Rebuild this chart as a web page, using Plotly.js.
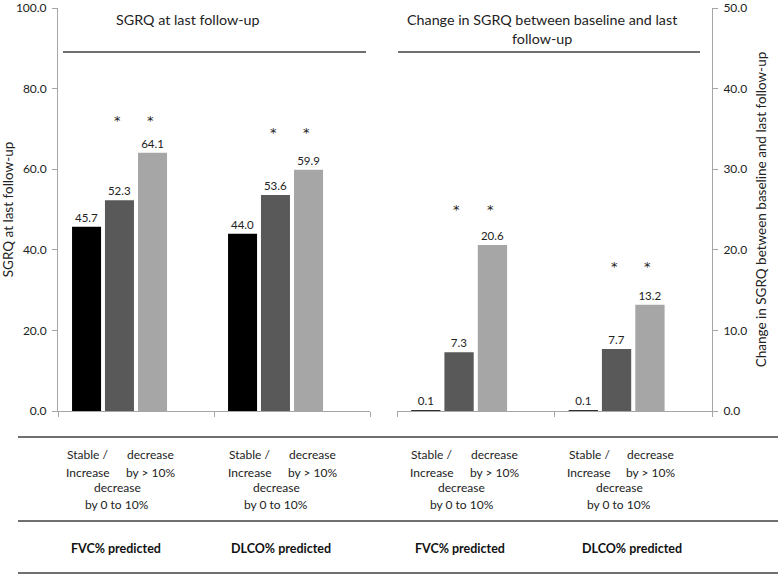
<!DOCTYPE html>
<html><head><meta charset="utf-8">
<script src="https://cdn.plot.ly/plotly-3.0.1.min.js"></script>
<style>html,body{margin:0;padding:0;background:#fff}#chart{width:778px;height:574px}</style>
</head><body><div id="chart"></div>
<script>
// ---- data ----
const groups = ["FVC% predicted", "DLCO% predicted"];
const seriesNames = ["Stable / Increase", "decrease by 0 to 10%", "decrease by > 10%"];
const sgrqStable = [45.7, 44.0];
const sgrqDecSmall = [52.3, 53.6];
const sgrqDecLarge = [64.1, 59.9];
const changeStable = [0.1, 0.1];
const changeDecSmall = [7.3, 7.7];
const changeDecLarge = [20.6, 13.2];
const starLeftY = [72.8, 69.9];
const starRightY = [25.4, 18.3];
const leftTicks = [0, 20, 40, 60, 80, 100];
const rightTicks = [0, 10, 20, 30, 40, 50];
const panelTitles = ["SGRQ at last follow-up", "Change in SGRQ between baseline and last<br>follow-up"];
const axisTitles = ["SGRQ at last follow-up", "Change in SGRQ between baseline and last follow-up"];
const barLabelLines = [["Stable /", "Increase"], ["decrease", "by 0 to 10%"], ["decrease", "by > 10%"]];

// ---- style ----
const FONT = "Lato, 'Open Sans', sans-serif";
const colors = ["#000000", "#595959", "#a6a6a6"];
const barOffsets = [-0.41, -0.199, 0.013];
const barWidth = 0.186;
const W = 778, H = 574, ML = 58, MR = 66, MT = 8, MB = 163;
const PW = W - ML - MR, PH = H - MT - MB;
const px = x => (x - ML) / PW;
const py = y => (H - MB - y) / PH;

const panels = [
  {xa: "x", ya: "y", vals: [sgrqStable, sgrqDecSmall, sgrqDecLarge], stars: starLeftY},
  {xa: "x2", ya: "y2", vals: [changeStable, changeDecSmall, changeDecLarge], stars: starRightY}
];

const traces = [];
panels.forEach((p, pi) => {
  p.vals.forEach((v, s) => {
    traces.push({
      type: "bar", x: groups, y: v, name: seriesNames[s],
      xaxis: p.xa, yaxis: p.ya,
      offset: barOffsets[s], width: barWidth,
      marker: {color: colors[s], line: {width: 0}},
      texttemplate: "%{y:.1f}", textposition: "outside",
      textfont: {family: FONT, size: 11.5, color: "#222"},
      cliponaxis: false, showlegend: false, hoverinfo: "skip"
    });
  });
});

const annotations = [];
// panel titles
annotations.push({xref: "paper", yref: "paper", x: px(188), y: py(20), text: panelTitles[0],
  showarrow: false, xanchor: "center", yanchor: "middle", font: {family: FONT, size: 14.3, color: "#222"}});
annotations.push({xref: "paper", yref: "paper", x: px(542), y: py(29), text: panelTitles[1],
  showarrow: false, xanchor: "center", yanchor: "middle", font: {family: FONT, size: 14.3, color: "#222"}});

// significance stars above series 2 and 3
panels.forEach((p, pi) => {
  groups.forEach((g, gi) => {
    [1, 2].forEach(s => {
      annotations.push({xref: p.xa, yref: p.ya, x: gi + barOffsets[s] + barWidth / 2 - 0.015, y: p.stars[gi],
        text: "*", showarrow: false, xanchor: "center", yanchor: "middle", yshift: -3,
        font: {family: "'DejaVu Sans', sans-serif", size: 13, color: "#222"}});
    });
  });
});

// category labels table (offsets relative to category centre, per panel/group)
const labelOffsets = [
  [[-0.31, -0.12, 0.09, -0.13], [-0.27, -0.10, 0.13, -0.07]],
  [[-0.28, -0.09, 0.12, -0.10], [-0.28, -0.09, 0.11, -0.01]]
];
const rowY = [[455, 472], [488, 504], [455, 472]];
panels.forEach((p, pi) => {
  groups.forEach((g, gi) => {
    const offs = labelOffsets[pi][gi];
    barLabelLines.forEach((lines, s) => {
      lines.forEach((t, li) => {
        annotations.push({xref: p.xa, yref: "paper", x: gi + offs[s], y: py(rowY[s][li]), text: t,
          showarrow: false, xanchor: "center", yanchor: "middle",
          font: {family: FONT, size: 12, color: "#222"}});
      });
    });
    annotations.push({xref: p.xa, yref: "paper", x: gi + offs[3], y: py(548), text: "<b>" + g + "</b>",
      showarrow: false, xanchor: "center", yanchor: "middle",
      font: {family: FONT, size: 12.5, color: "#111"}});
  });
});

const lineStyle = {color: "#404040", width: 1.5};
const shapes = [
  {type: "line", xref: "paper", yref: "paper", x0: px(63), x1: px(366), y0: py(52), y1: py(52), line: lineStyle},
  {type: "line", xref: "paper", yref: "paper", x0: px(398), x1: px(700), y0: py(52), y1: py(52), line: lineStyle},
  {type: "line", xref: "paper", yref: "paper", x0: px(18), x1: px(778), y0: py(437), y1: py(437), line: lineStyle},
  {type: "line", xref: "paper", yref: "paper", x0: px(18), x1: px(778), y0: py(521), y1: py(521), line: lineStyle},
  {type: "line", xref: "paper", yref: "paper", x0: px(18), x1: px(778), y0: py(573), y1: py(573), line: lineStyle}
];

const xCommon = {
  type: "category", range: [-0.5, 1.5], showticklabels: false, showgrid: false, zeroline: false,
  showline: true, linecolor: "#a6a6a6", linewidth: 1,
  ticks: "outside", tickson: "boundaries", ticklen: 5, tickcolor: "#a6a6a6", fixedrange: true
};
const yCommon = {
  showgrid: false, zeroline: false, showline: true, linecolor: "#a6a6a6", linewidth: 1,
  ticks: "outside", ticklen: 5, tickcolor: "#a6a6a6", tickformat: ".1f", ticklabelstandoff: 3,
  ticklabeloverflow: "allow",
  tickfont: {family: FONT, size: 12, color: "#222"}, automargin: false, fixedrange: true
};

const layout = {
  width: W, height: H,
  margin: {l: ML, r: MR, t: MT, b: MB, pad: 0},
  paper_bgcolor: "#fff", plot_bgcolor: "#fff",
  barmode: "overlay", showlegend: false,
  font: {family: FONT, color: "#222"},
  xaxis: Object.assign({}, xCommon, {domain: [0, px(370)], anchor: "y"}),
  xaxis2: Object.assign({}, xCommon, {domain: [px(397), 1], anchor: "y2"}),
  yaxis: Object.assign({}, yCommon, {range: [0, 100.02], tickvals: leftTicks, anchor: "x", side: "left",
    title: {text: axisTitles[0], font: {family: FONT, size: 13.5, color: "#222"}, standoff: 4}}),
  yaxis2: Object.assign({}, yCommon, {range: [0, 50.01], tickvals: rightTicks, anchor: "x2", side: "right",
    title: {text: axisTitles[1], font: {family: FONT, size: 13.5, color: "#222"}, standoff: 10}}),
  annotations: annotations,
  shapes: shapes
};

Plotly.newPlot("chart", traces, layout, {displayModeBar: false, staticPlot: true});
</script>
</body></html>
